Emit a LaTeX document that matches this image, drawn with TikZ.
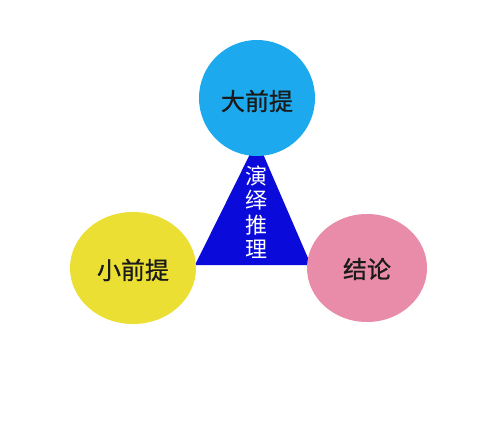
\documentclass[tikz,border=0pt]{standalone}
\usepackage{fontspec}
\newfontfamily\cjk{Noto Sans CJK SC}
\newfontfamily\cjkb[FakeBold=0.9]{Noto Sans CJK SC}
\definecolor{topblue}{HTML}{1DA9EE}
\definecolor{leftyellow}{HTML}{EBDF33}
\definecolor{rightpink}{HTML}{E98CA9}
\definecolor{triblue}{HTML}{0A0ADB}
\definecolor{txtdark}{HTML}{1A1A1A}
\begin{document}
\begin{tikzpicture}[x=1pt,y=-1pt,
  labeltext/.style={text=txtdark, font=\cjkb\fontsize{24}{26}\selectfont, inner sep=0pt},
]
\useasboundingbox (0,0) rectangle (493,441);
\fill[white] (0,0) rectangle (493,441);
% triangle
\coordinate (apex) at (257,140);
\coordinate (bl) at (195,265);
\coordinate (br) at (311,265);
\fill[triblue] (apex) -- (bl) -- (br) -- cycle;
% circles
\fill[topblue] (257,98) ellipse [x radius=58, y radius=58];
\fill[leftyellow] (133,268) ellipse [x radius=63, y radius=56];
\fill[rightpink] (367,268) ellipse [x radius=60, y radius=54];
\node[labeltext] (top) at (257,101) {大前提};
\node[labeltext] (left) at (133,270) {小前提};
\node[labeltext] (right) at (367,269) {结论};
\node[text=white, font=\cjk\fontsize{22}{24.5}\selectfont, align=center, inner sep=0pt] (mid) at (256,212) {演\\绎\\推\\理};
\end{tikzpicture}
\end{document}
